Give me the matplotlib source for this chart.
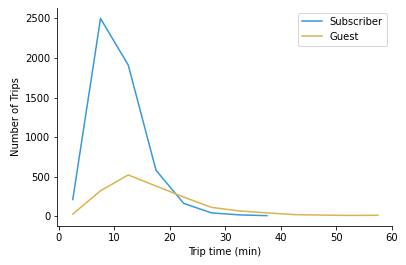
import matplotlib
matplotlib.use('Agg')
import matplotlib.pyplot as plt

# trip time bins (midpoints, min)
sub_x = [2.5, 7.5, 12.5, 17.5, 22.5, 27.5, 32.5, 37.5]
sub_y = [210, 2500, 1910, 580, 160, 40, 15, 5]

guest_x = [2.5, 7.5, 12.5, 17.5, 22.5, 27.5, 32.5, 37.5, 42.5, 47.5, 52.5, 57.5]
guest_y = [25, 320, 520, 380, 240, 110, 65, 40, 18, 12, 8, 10]

fig = plt.figure(figsize=(406 / 72, 265 / 72), dpi=72)
ax = plt.axes([0.141, 0.148, 0.824, 0.822])

ax.plot(sub_x, sub_y, color='#3498db', lw=1.5, label='Subscriber')
ax.plot(guest_x, guest_y, color='#dbb34a', lw=1.5, label='Guest')

ax.set_xlim(-0.3, 60)
ax.set_ylim(-123, 2633)
ax.set_xticks([0, 10, 20, 30, 40, 50, 60])
ax.set_yticks([0, 500, 1000, 1500, 2000, 2500])
ax.set_xlabel('Trip time (min)')
ax.set_ylabel('Number of Trips')
ax.spines['top'].set_visible(False)
ax.spines['right'].set_visible(False)
ax.legend(loc='upper right')

plt.savefig('out.png', dpi=72)
